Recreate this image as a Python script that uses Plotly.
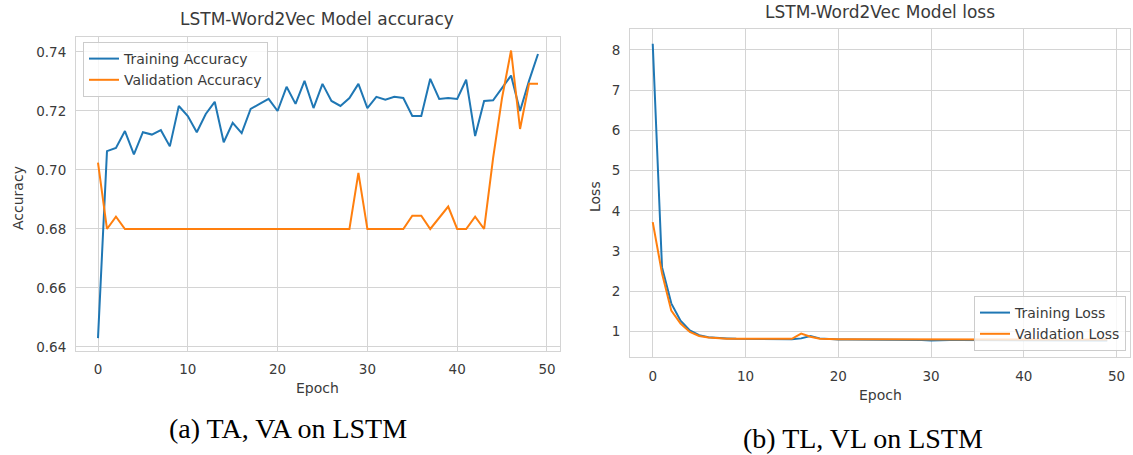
import plotly.graph_objects as go

W, H = 1133, 455

epochs = list(range(50))

train_acc = [0.643, 0.7064, 0.7075, 0.7132, 0.7053, 0.7128, 0.7120, 0.7135, 0.7080, 0.7217,
             0.7183, 0.7128, 0.7190, 0.7231, 0.7094, 0.7160, 0.7125, 0.7207, 0.7224, 0.7241,
             0.7200, 0.7282, 0.7224, 0.7302, 0.7210, 0.7292, 0.7234, 0.7217, 0.7244, 0.7292,
             0.7210, 0.7248, 0.7238, 0.7248, 0.7244, 0.7183, 0.7183, 0.7309, 0.7241, 0.7244,
             0.7241, 0.7306, 0.7115, 0.7234, 0.7236, 0.7280, 0.7320, 0.7200, 0.7302, 0.7393]

val_acc = [0.7025, 0.6800, 0.6842, 0.6800, 0.6800, 0.6800, 0.6800, 0.6800, 0.6800, 0.6800,
           0.6800, 0.6800, 0.6800, 0.6800, 0.6800, 0.6800, 0.6800, 0.6800, 0.6800, 0.6800,
           0.6800, 0.6800, 0.6800, 0.6800, 0.6800, 0.6800, 0.6800, 0.6800, 0.6800, 0.6990,
           0.6800, 0.6800, 0.6800, 0.6800, 0.6800, 0.6845, 0.6845, 0.6800, 0.6840, 0.6876,
           0.6800, 0.6800, 0.6842, 0.6800, 0.7040, 0.7245, 0.7405, 0.7139, 0.7292, 0.7292]

train_loss = [8.15, 2.60, 1.70, 1.27, 1.03, 0.91, 0.86, 0.84, 0.83, 0.82,
              0.82, 0.81, 0.81, 0.81, 0.81, 0.81, 0.83, 0.89, 0.83, 0.81,
              0.80, 0.80, 0.80, 0.80, 0.79, 0.80, 0.79, 0.80, 0.79, 0.79,
              0.78, 0.79, 0.79, 0.79, 0.79, 0.79, 0.79, 0.78, 0.79, 0.79,
              0.78, 0.79, 0.79, 0.79, 0.79, 0.78, 0.79, 0.79, 0.79, 0.78]

val_loss = [3.72, 2.45, 1.52, 1.20, 0.99, 0.89, 0.85, 0.83, 0.82, 0.82,
            0.82, 0.82, 0.82, 0.82, 0.82, 0.82, 0.95, 0.87, 0.82, 0.81,
            0.81, 0.81, 0.81, 0.80, 0.81, 0.80, 0.81, 0.80, 0.80, 0.80,
            0.80, 0.80, 0.81, 0.80, 0.80, 0.80, 0.80, 0.80, 0.80, 0.80,
            0.80, 0.80, 0.80, 0.80, 0.80, 0.80, 0.80, 0.80, 0.80, 0.80]

acc_ticks = [0.64, 0.66, 0.68, 0.70, 0.72, 0.74]
acc_tick_text = ["0.64", "0.66", "0.68", "0.70", "0.72", "0.74"]
loss_ticks = [1, 2, 3, 4, 5, 6, 7, 8]
epoch_ticks = [0, 10, 20, 30, 40, 50]

BLUE = "#1f77b4"
ORANGE = "#ff7f0e"
GRID = "#d4d4d4"
TXT = "#3a3a3a"
FONT = "DejaVu Sans"

fig = go.Figure()
fig.add_trace(go.Scatter(x=epochs, y=train_acc, mode="lines", name="Training Accuracy",
                         line=dict(color=BLUE, width=2), xaxis="x", yaxis="y", legend="legend"))
fig.add_trace(go.Scatter(x=epochs, y=val_acc, mode="lines", name="Validation Accuracy",
                         line=dict(color=ORANGE, width=2), xaxis="x", yaxis="y", legend="legend"))
fig.add_trace(go.Scatter(x=epochs, y=train_loss, mode="lines", name="Training Loss",
                         line=dict(color=BLUE, width=2), xaxis="x2", yaxis="y2", legend="legend2"))
fig.add_trace(go.Scatter(x=epochs, y=val_loss, mode="lines", name="Validation Loss",
                         line=dict(color=ORANGE, width=2), xaxis="x2", yaxis="y2", legend="legend2"))

def px_x(p):
    return p / W

def px_y(p):
    return 1 - p / H

axis_common = dict(showgrid=True, gridcolor=GRID, gridwidth=1, showline=True, linecolor=GRID,
                   linewidth=1, mirror=True, zeroline=False, ticks="", ticklabelstandoff=6,
                   automargin=False,
                   tickfont=dict(family=FONT, size=13.5, color=TXT))

fig.update_layout(
    width=W, height=H,
    margin=dict(l=0, r=0, t=0, b=0),
    paper_bgcolor="white", plot_bgcolor="white",
    font=dict(family=FONT, color=TXT),
    xaxis=dict(domain=[px_x(76), px_x(560)], range=[-2.45, 51.45], tickvals=epoch_ticks,
               anchor="y", **axis_common),
    yaxis=dict(domain=[px_y(351), px_y(37)], range=[0.63864, 0.74508], tickvals=acc_ticks,
               ticktext=acc_tick_text, anchor="x", **axis_common),
    xaxis2=dict(domain=[px_x(630), px_x(1130)], range=[-2.45, 51.45], tickvals=epoch_ticks,
                anchor="y2", **axis_common),
    yaxis2=dict(domain=[px_y(357.3), px_y(29.3)], range=[0.36, 8.51], tickvals=loss_ticks,
                anchor="x2", **axis_common),
    legend=dict(x=px_x(83), y=px_y(42), xanchor="left", yanchor="top",
                bgcolor="rgba(255,255,255,0.8)", bordercolor="#cccccc", borderwidth=1,
                font=dict(family=FONT, size=14, color=TXT), tracegroupgap=0,
                itemwidth=30),
    legend2=dict(x=px_x(1126), y=px_y(351), xanchor="right", yanchor="bottom",
                 bgcolor="rgba(255,255,255,0.8)", bordercolor="#cccccc", borderwidth=1,
                 font=dict(family=FONT, size=14, color=TXT), tracegroupgap=0,
                 itemwidth=30),
    showlegend=True,
)

def ann(text, x, y, size=13, angle=0, family=FONT, color=TXT):
    fig.add_annotation(text=text, x=px_x(x), y=px_y(y), xref="paper", yref="paper",
                       xanchor="center", yanchor="middle", showarrow=False, textangle=angle,
                       font=dict(family=family, size=size, color=color))

ann("LSTM-Word2Vec Model accuracy", 317, 19, size=17)
ann("LSTM-Word2Vec Model loss", 880, 12, size=17)
ann("Epoch", 317, 388, size=14)
ann("Epoch", 880, 395, size=14)
ann("Accuracy", 18, 198, size=14, angle=-90)
ann("Loss", 595, 197, size=14, angle=-90)
ann("(a) TA, VA on LSTM", 288, 428, size=28, family="Liberation Serif", color="black")
ann("(b) TL, VL on LSTM", 863, 438, size=28, family="Liberation Serif", color="black")

fig.write_html("out.html", config={"displayModeBar": False},
               post_script="document.body.style.margin='0';document.body.style.overflow='hidden';")
